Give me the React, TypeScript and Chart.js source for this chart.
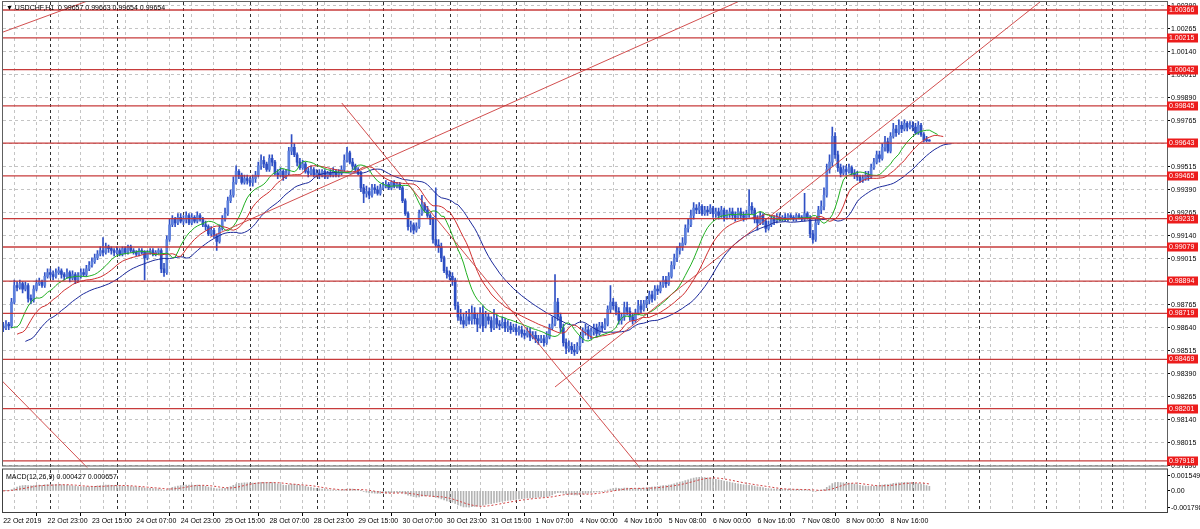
import { useEffect, useRef } from 'react';
import { Chart, registerables } from 'chart.js';

Chart.register(...registerables);

// ---- hourly candles per trading day (price x 100000): closes (C), highs (H), lows (L) ----
const oct22C = [98640, 98660, 98650, 98780, 98870, 98860, 98880, 98850, 98870, 98800, 98790, 98850, 98880, 98890, 98870, 98920, 98940];
const oct22H = [98670, 98680, 98670, 98800, 98900, 98890, 98900, 98890, 98890, 98880, 98820, 98870, 98900, 98910, 98900, 98940, 98960];
const oct22L = [98620, 98630, 98630, 98640, 98770, 98840, 98850, 98830, 98840, 98780, 98770, 98780, 98840, 98870, 98860, 98860, 98910];

const oct23C = [98930, 98920, 98940, 98950, 98930, 98920, 98940, 98910, 98930, 98900, 98920, 98940, 98930, 98960, 98980, 99000, 99020, 99040, 99060, 99050, 99080, 99070, 99060, 99050];
const oct23H = [98960, 98950, 98960, 98970, 98960, 98940, 98960, 98950, 98950, 98940, 98940, 98960, 98960, 98980, 99000, 99020, 99040, 99060, 99080, 99130, 99100, 99090, 99080, 99070];
const oct23L = [98910, 98900, 98910, 98930, 98910, 98900, 98910, 98890, 98900, 98880, 98890, 98910, 98920, 98920, 98950, 98970, 98990, 99010, 99030, 99030, 99040, 99050, 99040, 99030];

const oct24C = [99060, 99040, 99070, 99050, 99080, 99060, 99050, 99040, 99060, 99050, 99020, 99050, 99060, 99040, 99050, 99060, 98960, 98940, 99120, 99200, 99230, 99210, 99240, 99220];
const oct24H = [99080, 99070, 99080, 99080, 99090, 99090, 99070, 99060, 99070, 99070, 99060, 99060, 99070, 99070, 99060, 99070, 99070, 98990, 99140, 99230, 99250, 99240, 99260, 99260];
const oct24L = [99040, 99030, 99030, 99040, 99040, 99050, 99040, 99030, 99030, 99040, 98900, 99010, 99040, 99030, 99030, 99040, 98940, 98920, 98930, 99110, 99190, 99190, 99200, 99210];

const oct25C = [99230, 99250, 99210, 99240, 99220, 99250, 99230, 99200, 99190, 99150, 99170, 99140, 99110, 99180, 99230, 99260, 99330, 99360, 99430, 99490, 99470, 99430, 99450, 99440];
const oct25H = [99250, 99270, 99260, 99260, 99250, 99270, 99260, 99240, 99220, 99200, 99190, 99180, 99150, 99200, 99250, 99290, 99350, 99390, 99460, 99520, 99500, 99480, 99470, 99470];
const oct25L = [99200, 99210, 99200, 99200, 99210, 99210, 99220, 99190, 99170, 99140, 99140, 99130, 99060, 99100, 99170, 99220, 99250, 99320, 99350, 99420, 99450, 99420, 99420, 99420];

const oct28C = [99430, 99450, 99470, 99520, 99550, 99530, 99500, 99560, 99540, 99480, 99470, 99490, 99460, 99480, 99600, 99620, 99580, 99540, 99510, 99530, 99490, 99480, 99500, 99470];
const oct28H = [99460, 99470, 99490, 99540, 99580, 99570, 99540, 99580, 99580, 99550, 99500, 99510, 99500, 99500, 99620, 99690, 99640, 99590, 99560, 99550, 99540, 99510, 99520, 99510];
const oct28L = [99410, 99410, 99430, 99460, 99500, 99510, 99490, 99490, 99520, 99470, 99450, 99460, 99440, 99450, 99470, 99580, 99570, 99520, 99500, 99500, 99480, 99460, 99470, 99460];

const oct29C = [99480, 99470, 99490, 99460, 99480, 99470, 99490, 99470, 99480, 99500, 99550, 99590, 99540, 99520, 99500, 99480, 99400, 99370, 99380, 99360, 99400, 99390, 99370, 99400];
const oct29H = [99500, 99500, 99500, 99500, 99490, 99500, 99510, 99500, 99500, 99520, 99580, 99620, 99600, 99560, 99530, 99510, 99490, 99420, 99410, 99400, 99420, 99420, 99410, 99420];
const oct29L = [99460, 99450, 99460, 99450, 99450, 99460, 99460, 99460, 99460, 99470, 99490, 99540, 99530, 99500, 99490, 99470, 99380, 99320, 99350, 99340, 99350, 99370, 99360, 99360];

const oct30C = [99410, 99420, 99400, 99430, 99410, 99420, 99400, 99330, 99260, 99190, 99200, 99170, 99190, 99260, 99310, 99280, 99250, 99230, 99120, 99090, 99080, 99020, 98950, 98930];
const oct30H = [99430, 99440, 99430, 99440, 99440, 99430, 99430, 99410, 99340, 99270, 99220, 99210, 99210, 99280, 99360, 99320, 99300, 99260, 99240, 99400, 99120, 99100, 99030, 98970];
const oct30L = [99390, 99400, 99390, 99390, 99400, 99400, 99390, 99320, 99250, 99170, 99160, 99150, 99160, 99180, 99250, 99270, 99240, 99200, 99100, 99080, 99050, 99000, 98940, 98910];

const oct31C = [98920, 98900, 98760, 98700, 98680, 98660, 98700, 98680, 98720, 98690, 98660, 98720, 98650, 98700, 98680, 98640, 98690, 98660, 98650, 98670, 98640, 98650, 98630, 98640];
const oct31H = [98950, 98940, 98910, 98780, 98740, 98720, 98730, 98740, 98760, 98750, 98720, 98750, 98760, 98730, 98720, 98700, 98740, 98710, 98680, 98700, 98690, 98680, 98670, 98660];
const oct31L = [98900, 98870, 98740, 98680, 98660, 98640, 98650, 98660, 98660, 98660, 98620, 98640, 98620, 98640, 98660, 98620, 98630, 98640, 98630, 98640, 98620, 98620, 98610, 98620];

const nov01C = [98620, 98630, 98610, 98600, 98620, 98590, 98600, 98580, 98570, 98580, 98560, 98590, 98640, 98660, 98780, 98700, 98640, 98560, 98530, 98540, 98520, 98510, 98540];
const nov01H = [98660, 98650, 98650, 98630, 98640, 98640, 98620, 98620, 98600, 98600, 98600, 98620, 98660, 98700, 98930, 98800, 98720, 98660, 98580, 98570, 98560, 98550, 98560];
const nov01L = [98600, 98600, 98590, 98580, 98590, 98570, 98580, 98560, 98550, 98560, 98540, 98550, 98580, 98630, 98650, 98680, 98620, 98540, 98500, 98510, 98500, 98490, 98500];

const nov04C = [98580, 98620, 98630, 98600, 98620, 98640, 98610, 98650, 98640, 98660, 98740, 98780, 98760, 98730, 98680, 98700, 98750, 98730, 98700, 98680, 98720, 98760, 98740, 98770];
const nov04H = [98600, 98640, 98660, 98650, 98640, 98660, 98660, 98670, 98670, 98690, 98760, 98870, 98800, 98780, 98750, 98720, 98780, 98780, 98750, 98720, 98740, 98790, 98790, 98790];
const nov04L = [98520, 98560, 98600, 98580, 98580, 98600, 98590, 98600, 98620, 98630, 98650, 98720, 98740, 98710, 98660, 98660, 98680, 98710, 98680, 98660, 98670, 98710, 98720, 98730];

const nov05C = [98790, 98820, 98800, 98850, 98840, 98870, 98900, 98880, 98920, 98980, 99020, 99060, 99080, 99100, 99180, 99200, 99250, 99290, 99280, 99300, 99260, 99280, 99270, 99290];
const nov05H = [98810, 98840, 98840, 98870, 98870, 98890, 98920, 98920, 98940, 99000, 99040, 99080, 99100, 99130, 99200, 99230, 99280, 99320, 99310, 99320, 99310, 99300, 99300, 99310];
const nov05L = [98750, 98770, 98780, 98790, 98820, 98830, 98860, 98860, 98870, 98910, 98960, 99000, 99040, 99060, 99090, 99160, 99190, 99230, 99260, 99260, 99250, 99250, 99250, 99260];

const nov06C = [99260, 99270, 99250, 99280, 99240, 99260, 99270, 99250, 99240, 99270, 99250, 99240, 99260, 99300, 99280, 99230, 99210, 99250, 99220, 99180, 99200, 99230, 99220, 99240];
const nov06H = [99300, 99290, 99290, 99300, 99290, 99280, 99290, 99290, 99270, 99290, 99290, 99270, 99280, 99390, 99320, 99290, 99250, 99270, 99260, 99230, 99220, 99250, 99250, 99260];
const nov06L = [99240, 99240, 99230, 99240, 99220, 99230, 99240, 99230, 99220, 99230, 99230, 99220, 99230, 99240, 99260, 99210, 99170, 99200, 99200, 99160, 99170, 99190, 99200, 99210];

const nov07C = [99230, 99240, 99230, 99250, 99240, 99230, 99250, 99240, 99230, 99260, 99240, 99150, 99120, 99210, 99280, 99300, 99360, 99500, 99540, 99680, 99580, 99510, 99480, 99500];
const nov07H = [99260, 99250, 99260, 99260, 99260, 99250, 99260, 99260, 99250, 99370, 99270, 99250, 99170, 99230, 99300, 99330, 99400, 99530, 99580, 99730, 99700, 99600, 99530, 99520];
const nov07L = [99220, 99220, 99220, 99220, 99230, 99220, 99220, 99230, 99220, 99220, 99230, 99130, 99100, 99110, 99200, 99260, 99280, 99350, 99480, 99520, 99560, 99490, 99460, 99470];

const nov08C = [99490, 99510, 99480, 99470, 99460, 99440, 99450, 99470, 99460, 99510, 99540, 99580, 99560, 99620, 99650, 99600, 99680, 99720, 99700, 99740, 99720, 99750, 99730, 99740];
const nov08H = [99520, 99530, 99520, 99500, 99490, 99470, 99470, 99490, 99490, 99530, 99560, 99600, 99600, 99640, 99680, 99670, 99700, 99750, 99740, 99770, 99760, 99770, 99760, 99760];
const nov08L = [99470, 99480, 99470, 99450, 99440, 99430, 99430, 99440, 99440, 99450, 99500, 99530, 99540, 99550, 99600, 99590, 99590, 99670, 99680, 99690, 99700, 99710, 99710, 99720];

const nov11C = [99730, 99700, 99740, 99690, 99660, 99657, 99654];
const nov11H = [99760, 99750, 99760, 99750, 99700, 99680, 99663];
const nov11L = [99710, 99690, 99690, 99680, 99650, 99650, 99654];

const firstOpen = 98650;

// ---- horizontal levels (with red price tags) ----
const levelPrices = [1.00366, 1.00215, 1.00042, 0.99845, 0.99643, 0.99465, 0.99233, 0.99079, 0.98894, 0.98719, 0.98469, 0.98201, 0.97918];

// ---- price axis ticks ----
const priceTicks = [1.0039, 1.00265, 1.0014, 1.00015, 0.9989, 0.99765, 0.9964, 0.99515, 0.9939, 0.99265, 0.9914, 0.99015, 0.9889, 0.98765, 0.9864, 0.98515, 0.9839, 0.98265, 0.9814, 0.98015, 0.9789];
const macdTicks = [0.001549, 0, -0.001798];
const macdTickText = ['0.001549', '0.00', '-0.001798'];

// ---- time axis ----
const timeLabelBars = [0, 16, 32, 48, 64, 80, 96, 112, 128, 144, 160, 176, 192, 208, 224, 240, 256, 272, 288, 304, 320];
const timeLabelTexts = ['22 Oct 2019', '22 Oct 23:00', '23 Oct 15:00', '24 Oct 07:00', '24 Oct 23:00', '25 Oct 15:00', '28 Oct 07:00', '28 Oct 23:00', '29 Oct 15:00', '30 Oct 07:00', '30 Oct 23:00', '31 Oct 15:00', '1 Nov 07:00', '4 Nov 00:00', '4 Nov 16:00', '5 Nov 08:00', '6 Nov 00:00', '6 Nov 16:00', '7 Nov 08:00', '8 Nov 00:00', '8 Nov 16:00'];
const gridBars = [0, 8, 16, 24, 32, 40, 48, 56, 64, 72, 80, 88, 96, 104, 112, 120, 128, 136, 144, 152, 160, 168, 176, 184, 192, 200, 208, 216, 224, 232, 240, 248, 256, 264, 272, 280, 288, 296, 304, 312, 320, 328, 336, 344, 352, 360, 368, 376, 384, 392, 400, 408, 416];
const daySeparatorBars = [17, 41, 65, 89, 113, 137, 161, 185, 208, 232, 256, 280, 304, 328, 352, 376, 400];

// ---- trend lines: [barFrom, priceFrom, barTo, priceTo] ----
const trendLines = [
  [-5, 1.00219, 40, 1.00468],
  [74.6, 0.99132, 272.9, 1.00464],
  [122.1, 0.99861, 233, 0.97818],
  [199.0, 0.98319, 377.5, 1.00453],
  [-3, 0.98392, 33, 0.9784],
];

const header = '\u25BC USDCHF,H1  0.99657 0.99663 0.99654 0.99654';
const macdHeader = 'MACD(12,26,9) 0.000427 0.000657';

// ---- scale ranges ----
const X_MIN = -0.07;
const X_MAX = 419.7;
const Y_MIN = 0.978818;
const Y_MAX = 1.004094;
const M_MIN = -0.002321;
const M_MAX = 0.002438;

const FONT = "'Liberation Sans', 'DejaVu Sans', sans-serif";

function smma(values: number[], period: number, seed: number) {
  const out: number[] = [];
  let prev = seed;
  for (const v of values) {
    prev = (prev * (period - 1) + v) / period;
    out.push(prev);
  }
  return out;
}
function ema(values: number[], period: number) {
  const k = 2 / (period + 1);
  const out: number[] = [];
  let prev = values[0];
  for (const v of values) {
    prev = v * k + prev * (1 - k);
    out.push(prev);
  }
  return out;
}

export default function App() {
  const ref = useRef<HTMLCanvasElement | null>(null);

  useEffect(() => {
    document.body.style.margin = '0';
    const canvas = ref.current;
    if (!canvas) return;

    const scale = (v: number) => v / 1e5;
    const closes = [oct22C, oct23C, oct24C, oct25C, oct28C, oct29C, oct30C, oct31C, nov01C, nov04C, nov05C, nov06C, nov07C, nov08C, nov11C].flat().map(scale);
    const highs = [oct22H, oct23H, oct24H, oct25H, oct28H, oct29H, oct30H, oct31H, nov01H, nov04H, nov05H, nov06H, nov07H, nov08H, nov11H].flat().map(scale);
    const lows = [oct22L, oct23L, oct24L, oct25L, oct28L, oct29L, oct30L, oct31L, nov01L, nov04L, nov05L, nov06L, nov07L, nov08L, nov11L].flat().map(scale);
    const opens = closes.map((c, i) => (i === 0 ? scale(firstOpen) : closes[i - 1]));
    const median = closes.map((c, i) => (highs[i] + lows[i]) / 2);

    const jaw = smma(median, 13, 0.9856);
    const teeth = smma(median, 8, 0.986);
    const lips = smma(median, 5, 0.9864);

    const e12 = ema(closes, 12);
    const e26 = ema(closes, 26);
    const macd = e12.map((v, i) => v - e26[i]);
    const signal = macd.map((_, i) => {
      const from = Math.max(0, i - 8);
      const part = macd.slice(from, i + 1);
      return part.reduce((a, b) => a + b, 0) / part.length;
    });

    const shifted = (vals: number[], shift: number) => vals.map((v, i) => ({ x: i + shift, y: v }));

    const labelFor = (v: number) => {
      const k = timeLabelBars.indexOf(Math.round(v));
      return k >= 0 ? timeLabelTexts[k] : '';
    };

    const datasets: any[] = [];
    levelPrices.forEach((p) => {
      datasets.push({
        type: 'line', data: [{ x: X_MIN, y: p }, { x: X_MAX, y: p }], borderColor: 'rgba(196,48,48,0.95)',
        borderWidth: 1.3, pointRadius: 0, yAxisID: 'y', order: 1, clip: 0,
      });
    });
    trendLines.forEach((t) => {
      datasets.push({
        type: 'line', data: [{ x: t[0], y: t[1] }, { x: t[2], y: t[3] }], borderColor: 'rgba(205,60,60,0.9)',
        borderWidth: 1, pointRadius: 0, yAxisID: 'y', order: 1, clip: 0,
      });
    });
    datasets.push({ type: 'line', data: shifted(lips, 3), borderColor: '#22b022', borderWidth: 1, pointRadius: 0, yAxisID: 'y', order: 2, clip: 0 });
    datasets.push({ type: 'line', data: shifted(teeth, 5), borderColor: '#d03030', borderWidth: 1, pointRadius: 0, yAxisID: 'y', order: 2, clip: 0 });
    datasets.push({ type: 'line', data: shifted(jaw, 8), borderColor: '#1c2a9c', borderWidth: 1, pointRadius: 0, yAxisID: 'y', order: 2, clip: 0 });
    datasets.push({
      type: 'bar', data: closes.map((c, i) => ({ x: i, y: [lows[i], highs[i]] })), backgroundColor: '#3050c4',
      barThickness: 1, grouped: false, yAxisID: 'y', order: 4, clip: 0,
    });
    datasets.push({
      type: 'bar', data: closes.map((c, i) => ({ x: i, y: [opens[i], c] })),
      backgroundColor: closes.map((c, i) => (c >= opens[i] ? '#5d80dc' : '#2d4ec2')),
      barThickness: 2, minBarLength: 1, grouped: false, yAxisID: 'y', order: 3, clip: 0,
    });
    datasets.push({
      type: 'bar', data: macd.map((v, i) => ({ x: i, y: v })), backgroundColor: '#b4b4b4',
      barThickness: 1, grouped: false, yAxisID: 'ym', order: 6, clip: 0,
    });
    datasets.push({
      type: 'line', data: signal.map((v, i) => ({ x: i, y: v })), borderColor: '#d04040', borderWidth: 1,
      borderDash: [2, 2], pointRadius: 0, yAxisID: 'ym', order: 5, clip: 0,
    });

    const decor = {
      id: 'mtDecor',
      beforeDraw(chart: any) {
        const { ctx } = chart;
        ctx.save();
        ctx.fillStyle = '#ffffff';
        ctx.fillRect(0, 0, chart.width, chart.height);
        ctx.restore();
      },
      beforeDatasetsDraw(chart: any) {
        const { ctx, chartArea } = chart;
        const xs = chart.scales.x;
        ctx.save();
        ctx.strokeStyle = '#303030';
        ctx.lineWidth = 1;
        ctx.setLineDash([3, 3]);
        daySeparatorBars.forEach((b) => {
          const px = Math.round(xs.getPixelForValue(b)) + 0.5;
          ctx.beginPath();
          ctx.moveTo(px, chartArea.top);
          ctx.lineTo(px, chartArea.bottom);
          ctx.stroke();
        });
        ctx.restore();
      },
      afterDatasetsDraw(chart: any) {
        const { ctx, chartArea } = chart;
        const ym = chart.scales.ym;
        ctx.save();
        ctx.strokeStyle = '#606060';
        ctx.lineWidth = 1;
        ctx.strokeRect(chartArea.left - 0.5, chartArea.top - 0.5, chartArea.right - chartArea.left + 1, ym.top - chartArea.top - 1);
        ctx.strokeStyle = '#404040';
        ctx.strokeRect(chartArea.left - 0.5, ym.top + 1.5, chartArea.right - chartArea.left + 1, chartArea.bottom - ym.top - 2);
        ctx.restore();
      },
      afterDraw(chart: any) {
        const { ctx, chartArea } = chart;
        const ys = chart.scales.y;
        ctx.save();
        ctx.font = `7px ${FONT}`;
        ctx.textBaseline = 'middle';
        ctx.textAlign = 'left';
        levelPrices.forEach((p) => {
          const py = ys.getPixelForValue(p);
          ctx.fillStyle = '#ec1c1c';
          ctx.fillRect(chartArea.right, Math.round(py) - 4.5, 31, 9);
          ctx.fillStyle = '#ffffff';
          ctx.fillText(p.toFixed(5), chartArea.right + 2, py);
        });
        ctx.fillStyle = '#000000';
        ctx.textBaseline = 'alphabetic';
        ctx.fillText(header, chartArea.left + 3, 10);
        ctx.fillText(macdHeader, chartArea.left + 3, chart.scales.ym.top + 11);
        ctx.restore();
      },
    };

    const chart = new Chart(canvas, {
      type: 'bar',
      data: { datasets },
      plugins: [decor],
      options: {
        animation: false,
        responsive: false,
        maintainAspectRatio: false,
        events: [],
        layout: { padding: { left: 3, top: 2, right: 0, bottom: 0 } },
        plugins: { legend: { display: false }, tooltip: { enabled: false } },
        scales: {
          x: {
            type: 'linear', min: X_MIN, max: X_MAX, offset: false,
            afterBuildTicks: (s: any) => { s.ticks = gridBars.map((v) => ({ value: v })); },
            afterFit: (s: any) => { s.height = 16; s.paddingLeft = 0; s.paddingRight = 0; },
            ticks: {
              autoSkip: false, maxRotation: 0, minRotation: 0, align: 'start', padding: 1,
              color: '#000', font: { family: FONT, size: 7 }, callback: (v: any) => labelFor(Number(v)),
            },
            grid: {
              color: '#c4c4c4', tickLength: 3,
              tickColor: (c: any) => (c.tick && labelFor(c.tick.value) ? '#000' : 'rgba(0,0,0,0)'),
            },
            border: { display: false, dash: [3, 3] },
          },
          y: {
            type: 'linear', position: 'right', stack: 'panes', stackWeight: 465.5, min: Y_MIN, max: Y_MAX,
            afterBuildTicks: (s: any) => { s.ticks = priceTicks.map((v) => ({ value: v })); },
            afterFit: (s: any) => { s.width = 33; s.paddingTop = 0; s.paddingBottom = 0; },
            ticks: { padding: 1, color: '#000', font: { family: FONT, size: 7 }, callback: (v: any) => Number(v).toFixed(5) },
            grid: { color: '#c4c4c4', tickLength: 3, tickColor: '#000' },
            border: { display: false, dash: [3, 3] },
          },
          ym: {
            type: 'linear', position: 'right', stack: 'panes', stackWeight: 45.5, min: M_MIN, max: M_MAX,
            afterBuildTicks: (s: any) => { s.ticks = macdTicks.map((v) => ({ value: v })); },
            afterFit: (s: any) => { s.width = 33; s.paddingTop = 0; s.paddingBottom = 0; },
            ticks: {
              padding: 1, color: '#000', font: { family: FONT, size: 7 },
              callback: (v: any) => { const k = macdTicks.indexOf(Number(v)); return k >= 0 ? macdTickText[k] : ''; },
            },
            grid: { drawOnChartArea: false, tickLength: 3, tickColor: '#000' },
            border: { display: false },
          },
        },
      } as any,
    });
    return () => chart.destroy();
  }, []);

  return (
    <div style={{ width: 1200, height: 529 }}>
      <canvas ref={ref} width={1200} height={529} style={{ display: 'block' }} />
    </div>
  );
}
